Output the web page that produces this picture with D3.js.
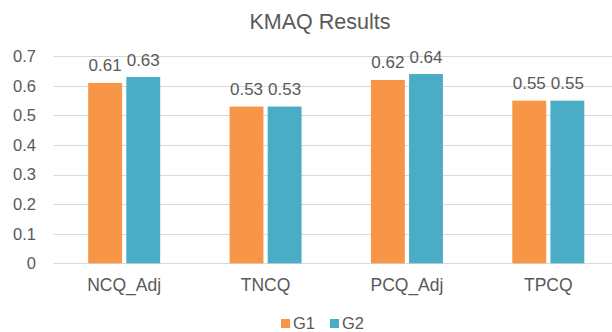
<!DOCTYPE html>
<html>
<head>
<meta charset="utf-8">
<script src="https://cdn.jsdelivr.net/npm/d3@7"></script>
<style>
  html, body { margin: 0; padding: 0; background: #fff; }
  svg { display: block; }
  text { font-family: "Liberation Sans", Arial, sans-serif; fill: #595959; }
</style>
</head>
<body>
<svg id="chart" width="612" height="332"></svg>
<script>
// KMAQ results by measure, two groups
const categories = ["NCQ_Adj", "TNCQ", "PCQ_Adj", "TPCQ"];
const seriesNames = ["G1", "G2"];
const g1 = [0.61, 0.53, 0.62, 0.55];
const g2 = [0.63, 0.53, 0.64, 0.55];
const yTicks = [0, 0.1, 0.2, 0.3, 0.4, 0.5, 0.6, 0.7];
const colors = ["#F79646", "#4BACC6"];

const svg = d3.select("#chart");
const W = 612;

const x = d3.scaleBand().domain(categories).range([53.5, 619]).padding(0);
const y = d3.scaleLinear().domain([0, 0.7]).range([263.3, 56.3]);

const barW = 32, barGap = 8;
const sub = d3.scaleBand().domain(seriesNames)
  .range([-(barW + barGap / 2), barW + barGap / 2]).paddingInner(barGap / (2 * barW + barGap));

// Title
svg.append("text")
  .attr("x", 320).attr("y", 28.5)
  .attr("text-anchor", "middle")
  .attr("font-size", 21.5)
  .text("KMAQ Results");

// Gridlines
svg.append("g").selectAll("line").data(yTicks).join("line")
  .attr("x1", 53.5).attr("x2", W)
  .attr("y1", d => Math.round(y(d)) + 0.5).attr("y2", d => Math.round(y(d)) + 0.5)
  .attr("stroke", "#d9d9d9").attr("stroke-width", 1);

// Y axis labels
const yAxis = d3.axisLeft(y).tickValues(yTicks).tickFormat(d => d === 0 ? "0" : d3.format(".1f")(d)).tickSize(0).tickPadding(0);
const ya = svg.append("g").attr("transform", "translate(36,0)").call(yAxis);
ya.select(".domain").remove();
ya.selectAll("text").attr("font-size", 16.5).attr("fill", "#595959").style("font-family", "Liberation Sans, Arial, sans-serif");

// X axis labels
const xAxis = d3.axisBottom(x).tickSize(0).tickPadding(0);
const xa = svg.append("g").attr("transform", "translate(0,279)").call(xAxis);
xa.select(".domain").remove();
xa.selectAll("text").attr("font-size", 17.5).attr("fill", "#595959").attr("dy", "0.71em").style("font-family", "Liberation Sans, Arial, sans-serif");

// Bars and value labels
const data = categories.map((c, i) => ({ c, vals: [g1[i], g2[i]] }));
const groups = svg.append("g").selectAll("g").data(data).join("g")
  .attr("transform", d => `translate(${x(d.c) + x.bandwidth() / 2},0)`);

groups.selectAll("rect").data(d => d.vals.map((v, j) => ({ v, s: seriesNames[j], j }))).join("rect")
  .attr("x", d => sub(d.s))
  .attr("width", sub.bandwidth())
  .attr("y", d => y(d.v))
  .attr("height", d => y(0) - y(d.v))
  .attr("fill", d => colors[d.j]);

groups.selectAll("text.val").data(d => d.vals.map((v, j) => ({ v, s: seriesNames[j] }))).join("text")
  .attr("class", "val")
  .attr("x", d => sub(d.s) + sub.bandwidth() / 2)
  .attr("y", d => y(d.v) - 11.5)
  .attr("text-anchor", "middle")
  .attr("font-size", 17)
  .text(d => d3.format(".2f")(d.v));

// Legend
const legend = svg.append("g").attr("transform", "translate(281,0)");
const lx = [0, 49];
seriesNames.forEach((s, i) => {
  legend.append("rect").attr("x", lx[i]).attr("y", 319).attr("width", 9).attr("height", 9).attr("fill", colors[i]);
  legend.append("text").attr("x", lx[i] + 12).attr("y", 329).attr("font-size", 16.5).text(s);
});
</script>
</body>
</html>
